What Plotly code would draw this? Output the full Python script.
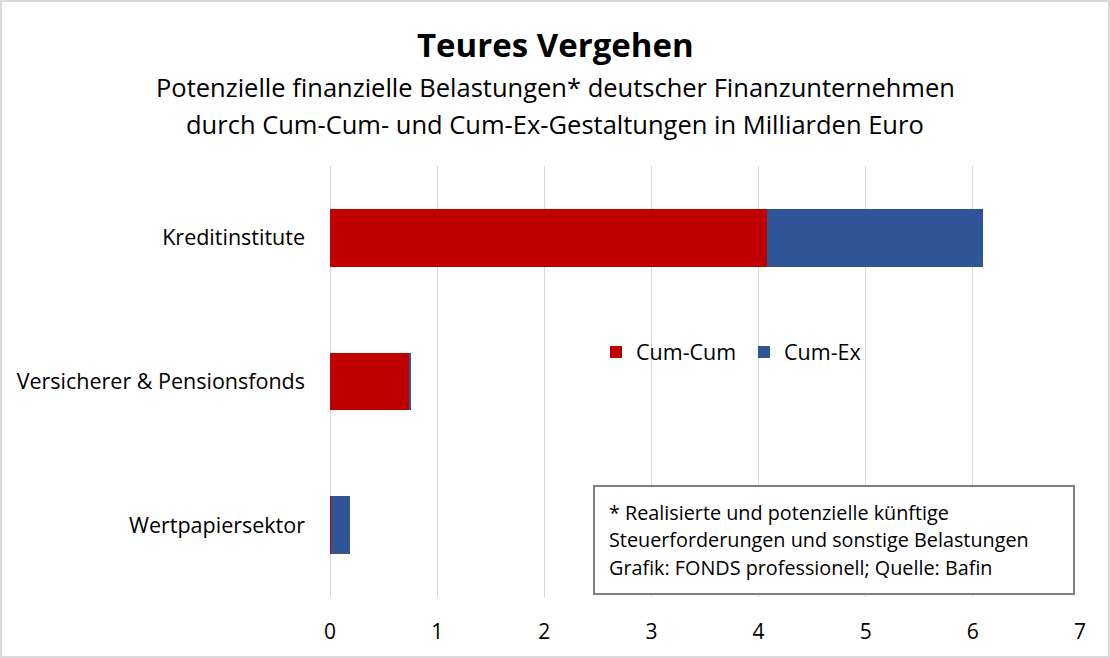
"""Teures Vergehen: stacked horizontal bars, Cum-Cum vs. Cum-Ex."""

import plotly.graph_objects as go

# Data (Mrd. Euro)
sectors = ["Kreditinstitute", "Versicherer & Pensionsfonds", "Wertpapiersektor"]
cum_cum = [4.08, 0.745, 0.01]
cum_ex = [2.01, 0.005, 0.18]
x_ticks = [0, 1, 2, 3, 4, 5, 6, 7]

title = "Teures Vergehen"
subtitle_lines = [
    "Potenzielle finanzielle Belastungen* deutscher Finanzunternehmen",
    "durch Cum-Cum- und Cum-Ex-Gestaltungen in Milliarden Euro",
]
note_lines = [
    "* Realisierte und potenzielle künftige",
    "Steuerforderungen und sonstige Belastungen",
    "Grafik: FONDS professionell; Quelle: Bafin",
]

FONT = "Open Sans"
W, H = 1110, 658
L, R, T, B = 330, 30, 166, 61
pw, ph = W - L - R, H - T - B


def px_x(x):
    return (x - L) / pw


def px_y(y):
    return (H - B - y) / ph


fig = go.Figure()
fig.add_trace(go.Bar(y=sectors, x=cum_cum, orientation="h", name="Cum-Cum",
                     marker=dict(color="#C00000", line=dict(width=0))))
fig.add_trace(go.Bar(y=sectors, x=cum_ex, orientation="h", name="Cum-Ex",
                     marker=dict(color="#2F5597", line=dict(width=0))))

annotations = [
    dict(text=f"<b>{title}</b>", x=px_x(555), xref="paper", xanchor="center",
         y=px_y(45), yref="paper", yanchor="middle", showarrow=False,
         font=dict(size=33, color="black")),
]
for i, line in enumerate(subtitle_lines):
    annotations.append(dict(text=line, x=px_x(555), xref="paper", xanchor="center",
                            y=px_y(87 + 37 * i), yref="paper", yanchor="middle",
                            showarrow=False, font=dict(size=25.5, color="black")))
for i, line in enumerate(note_lines):
    annotations.append(dict(text=line, x=px_x(607), xref="paper", xanchor="left",
                            y=px_y(512 + 27.5 * i), yref="paper", yanchor="middle",
                            showarrow=False, font=dict(size=19.8, color="black")))

shapes = [
    # note box
    dict(type="rect", xref="paper", yref="paper",
         x0=px_x(594), x1=px_x(1074), y0=px_y(594), y1=px_y(486),
         line=dict(color="#7f7f7f", width=2), fillcolor="white", layer="above"),
    # outer chart border
    dict(type="rect", xref="paper", yref="paper",
         x0=px_x(1), x1=px_x(W - 1), y0=px_y(H - 1), y1=px_y(1),
         line=dict(color="#d9d9d9", width=2)),
]

fig.update_layout(
    width=W, height=H,
    margin=dict(l=L, r=R, t=T, b=B, pad=0),
    paper_bgcolor="white", plot_bgcolor="white",
    font=dict(family=FONT, color="black"),
    barmode="stack", bargap=0.6,
    showlegend=True,
    legend=dict(orientation="h", x=px_x(596), xanchor="left",
                y=px_y(352), yanchor="middle", bgcolor="rgba(0,0,0,0)",
                font=dict(size=21.5), traceorder="normal", itemwidth=30,
                entrywidthmode="pixels", entrywidth=103),
    annotations=annotations,
    shapes=shapes,
)
fig.update_xaxes(range=[0, 7], tickvals=x_ticks, showgrid=True,
                 gridcolor="#d9d9d9", gridwidth=1, zeroline=True,
                 zerolinecolor="#d9d9d9", zerolinewidth=1, showline=False,
                 ticks="", ticklabelstandoff=20, tickfont=dict(size=21))
fig.update_yaxes(categoryorder="array", categoryarray=sectors[::-1],
                 showgrid=False, showline=False, ticks="",
                 ticklabelstandoff=24, tickfont=dict(size=21.5))

# drop the browser's default body margin so the figure sits at the page origin
fig.write_html("out.html", config={"displayModeBar": False},
               post_script="document.body.style.margin = '0';")
